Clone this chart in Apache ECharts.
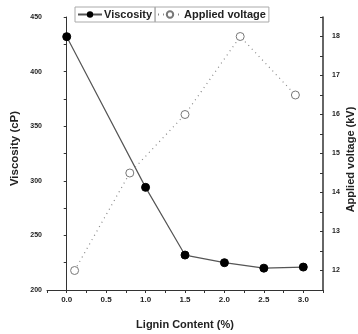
<!DOCTYPE html>
<html>
<head>
<meta charset="utf-8">
<script src="https://cdn.jsdelivr.net/npm/echarts@6/dist/echarts.min.js"></script>
<style>
  html, body { margin: 0; padding: 0; background: #fff; }
  #main { width: 358px; height: 334px; }
</style>
</head>
<body>
<div id="main"></div>
<script>
// lignin content (%) vs viscosity
var viscosityX = [0.0, 1.0, 1.5, 2.0, 2.5, 3.0];
var viscosity = [432, 294, 232, 225, 220, 221];

// lignin content (%) vs applied voltage
var voltageX = [0.1, 0.8, 1.5, 2.2, 2.9];
var voltage = [12.0, 14.5, 16.0, 18.0, 16.5];

var font = 'Liberation Sans';

function pairs(xs, ys) {
  return xs.map(function (x, i) { return [x, ys[i]]; });
}

var option = {
  animation: false,
  textStyle: { fontFamily: font },
  grid: { left: 47, right: 35, top: 17, bottom: 44, outerBoundsMode: 'none', containLabel: false },
  legend: [
    {
      data: ['Viscosity'],
      left: 75, top: 7,
      padding: [2, 3, 2, 2],
      borderColor: '#aaa', borderWidth: 1,
      itemWidth: 24, itemHeight: 8,
      textStyle: { fontFamily: font, fontWeight: 'bold', fontSize: 11, color: '#222', padding: [0, 0, 0, -3] }
    },
    {
      data: ['Applied voltage'],
      left: 155, top: 7,
      padding: [2, 3, 2, 2],
      borderColor: '#aaa', borderWidth: 1,
      itemWidth: 24, itemHeight: 8,
      textStyle: { fontFamily: font, fontWeight: 'bold', fontSize: 11, color: '#222', padding: [0, 0, 0, -3] }
    }
  ],
  xAxis: {
    type: 'value',
    min: -0.25, max: 3.25, interval: 0.25,
    name: 'Lignin Content (%)',
    nameLocation: 'middle', nameGap: 29,
    nameMoveOverlap: false,
    nameTextStyle: { fontFamily: font, fontWeight: 'bold', fontSize: 11, color: '#222' },
    axisLine: { lineStyle: { color: '#333', width: 1 } },
    axisTick: { inside: false, length: 3, lineStyle: { color: '#333' } },
    axisLabel: {
      fontFamily: font, fontWeight: 'bold', fontSize: 8, color: '#222', margin: 6,
      formatter: function (v) {
        var r = Math.round(v * 100) / 100;
        return (Math.abs(r * 2 - Math.round(r * 2)) < 1e-6 && r >= 0 && r <= 3) ? r.toFixed(1) : '';
      }
    },
    splitLine: { show: false }
  },
  yAxis: [
    {
      type: 'value',
      min: 200, max: 450, interval: 25,
      name: 'Viscosity (cP)',
      nameLocation: 'middle', nameGap: 26,
      nameMoveOverlap: false,
      nameTextStyle: { fontFamily: font, fontWeight: 'bold', fontSize: 11.5, color: '#222', padding: [0, 0, 0, 10] },
      axisLine: { show: true, lineStyle: { color: '#333', width: 1 } },
      axisTick: { show: true, length: 3, lineStyle: { color: '#333' } },
      axisLabel: {
        fontFamily: font, fontWeight: 'bold', fontSize: 7, color: '#222', margin: 5,
        formatter: function (v) { return v % 50 === 0 ? String(v) : ''; }
      },
      splitLine: { show: false }
    },
    {
      type: 'value',
      position: 'right',
      min: 11.5, max: 18.5, interval: 0.5,
      name: 'Applied voltage (kV)',
      nameLocation: 'middle', nameGap: 22,
      nameRotate: 90,
      nameMoveOverlap: false,
      nameTextStyle: { fontFamily: font, fontWeight: 'bold', fontSize: 11, color: '#222', padding: [0, 12, 0, 0] },
      axisLine: { show: true, lineStyle: { color: '#333', width: 1.5 } },
      axisTick: { show: true, inside: true, length: 3, lineStyle: { color: '#333' } },
      axisLabel: {
        fontFamily: font, fontWeight: 'bold', fontSize: 7, color: '#222', margin: 9,
        formatter: function (v) { return Math.abs(v - Math.round(v)) < 1e-6 ? String(Math.round(v)) : ''; }
      },
      splitLine: { show: false }
    }
  ],
  series: [
    {
      name: 'Viscosity',
      type: 'line',
      yAxisIndex: 0,
      data: pairs(viscosityX, viscosity),
      symbol: 'circle', symbolSize: 8,
      lineStyle: { color: '#555', width: 1.2 },
      itemStyle: { color: '#000', borderColor: '#000' }
    },
    {
      name: 'Applied voltage',
      type: 'line',
      yAxisIndex: 1,
      data: pairs(voltageX, voltage),
      symbol: 'circle', symbolSize: 8,
      lineStyle: { color: '#888', width: 1.2, type: [1, 4] },
      itemStyle: { color: '#fff', borderColor: '#777', borderWidth: 1 }
    }
  ]
};

var chartDom = document.getElementById('main');
var myChart = echarts.init(chartDom);
option && myChart.setOption(option);
</script>
</body>
</html>
